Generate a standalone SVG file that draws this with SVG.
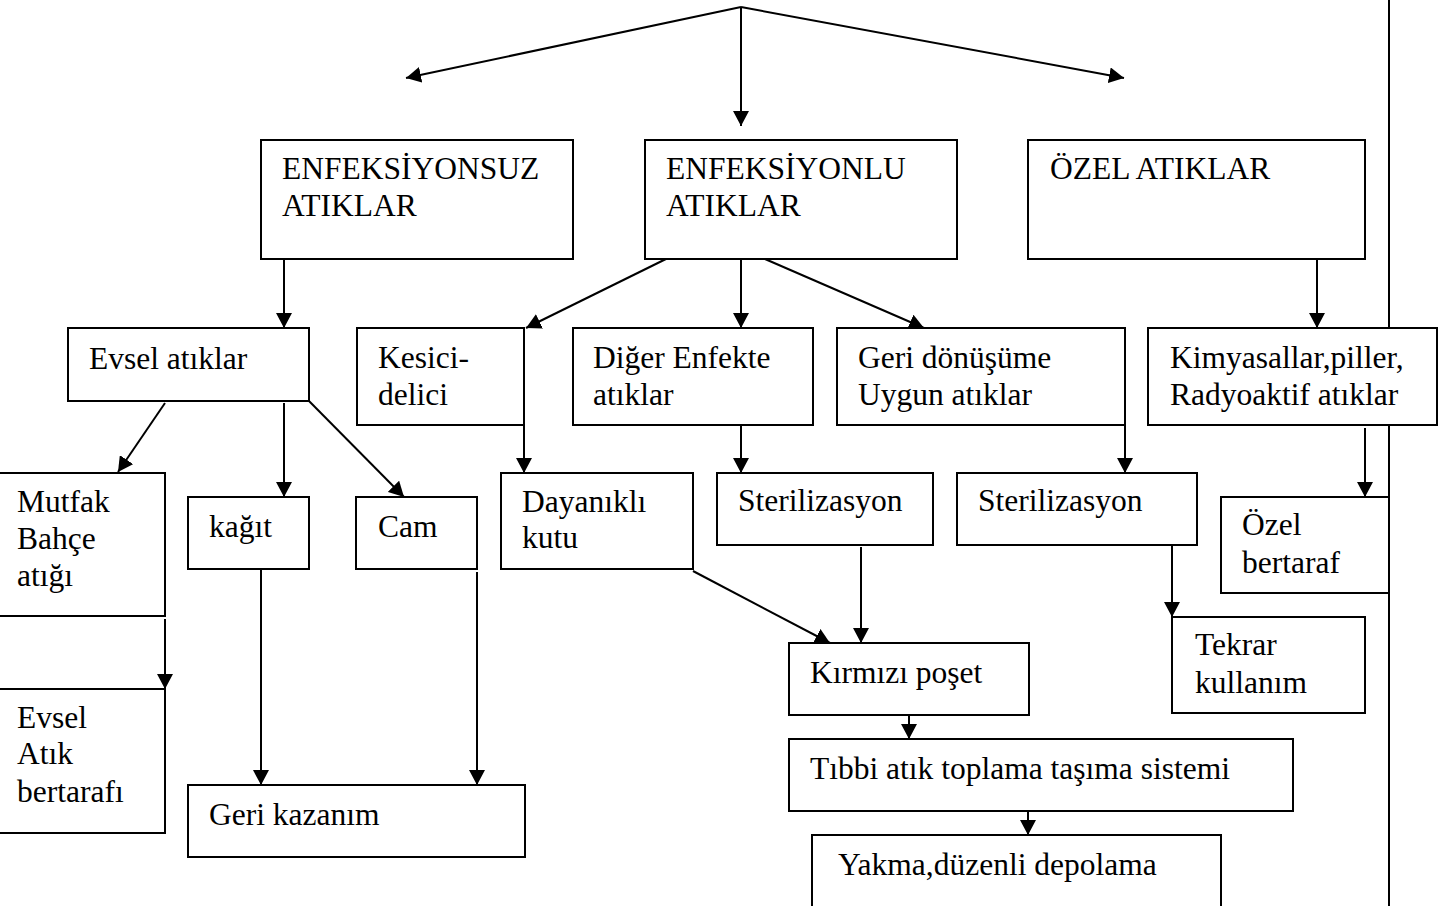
<svg xmlns="http://www.w3.org/2000/svg" width="1447" height="906" viewBox="0 0 1447 906">
<style>
.b{fill:#fff;stroke:#000;stroke-width:2}
.t{font-family:"Liberation Serif","Times New Roman",serif;font-size:31.5px;fill:#000}
.c{stroke:#000;stroke-width:2;fill:none}
.a{marker-end:url(#ah)}
</style>
<defs>
<marker id="ah" markerUnits="userSpaceOnUse" markerWidth="16" markerHeight="16" refX="15" refY="8" orient="auto">
<path d="M0,0 L15,8 L0,16 z" fill="#000"/>
</marker>
</defs>
<rect width="1447" height="906" fill="#fff"/>
<g id="connectors">
<line class="c" x1="1389" y1="0" x2="1389" y2="906"/>
<line class="c a" x1="741" y1="7" x2="406" y2="78"/>
<line class="c a" x1="741" y1="7" x2="741" y2="126"/>
<line class="c a" x1="741" y1="7" x2="1124" y2="78"/>
<line class="c a" x1="284" y1="259" x2="284" y2="328"/>
<line class="c a" x1="670" y1="257" x2="526" y2="328"/>
<line class="c a" x1="741" y1="259" x2="741" y2="328"/>
<line class="c a" x1="765" y1="259" x2="924" y2="328"/>
<line class="c a" x1="1317" y1="259" x2="1317" y2="328"/>
<line class="c a" x1="165" y1="403" x2="118" y2="472"/>
<line class="c a" x1="284" y1="403" x2="284" y2="497"/>
<line class="c a" x1="309" y1="401" x2="404" y2="497"/>
<line class="c a" x1="524" y1="425" x2="524" y2="473"/>
<line class="c a" x1="741" y1="425" x2="741" y2="473"/>
<line class="c a" x1="1125" y1="425" x2="1125" y2="473"/>
<line class="c a" x1="1365" y1="428" x2="1365" y2="497"/>
<line class="c a" x1="165" y1="619" x2="165" y2="689"/>
<line class="c a" x1="261" y1="569" x2="261" y2="785"/>
<line class="c a" x1="477" y1="572" x2="477" y2="785"/>
<line class="c a" x1="693" y1="571" x2="830" y2="643"/>
<line class="c a" x1="861" y1="547" x2="861" y2="643"/>
<line class="c a" x1="1172" y1="545" x2="1172" y2="617"/>
<line class="c a" x1="909" y1="715" x2="909" y2="739"/>
<line class="c a" x1="1028" y1="811" x2="1028" y2="835"/>
</g>
<g id="n-enfeksiyonsuz"><rect class="b" x="261" y="140" width="312" height="119"/><text class="t" x="282" y="179">ENFEKSİYONSUZ</text><text class="t" x="282" y="216">ATIKLAR</text></g>
<g id="n-enfeksiyonlu"><rect class="b" x="645" y="140" width="312" height="119"/><text class="t" x="666" y="179">ENFEKSİYONLU</text><text class="t" x="666" y="216">ATIKLAR</text></g>
<g id="n-ozel"><rect class="b" x="1028" y="140" width="337" height="119"/><text class="t" x="1050" y="179">ÖZEL ATIKLAR</text></g>
<g id="n-evsel"><rect class="b" x="68" y="328" width="241" height="73"/><text class="t" x="89" y="369">Evsel atıklar</text></g>
<g id="n-kesici"><rect class="b" x="357" y="328" width="167" height="97"/><text class="t" x="378" y="368">Kesici-</text><text class="t" x="378" y="405">delici</text></g>
<g id="n-diger"><rect class="b" x="573" y="328" width="240" height="97"/><text class="t" x="593" y="368">Diğer Enfekte</text><text class="t" x="593" y="405">atıklar</text></g>
<g id="n-geridonusum"><rect class="b" x="837" y="328" width="288" height="97"/><text class="t" x="858" y="368">Geri dönüşüme</text><text class="t" x="858" y="405">Uygun atıklar</text></g>
<g id="n-kimyasal"><rect class="b" x="1148" y="328" width="289" height="97"/><text class="t" x="1170" y="368">Kimyasallar,piller,</text><text class="t" x="1170" y="405">Radyoaktif atıklar</text></g>
<g id="n-mutfak"><rect class="b" x="-5" y="473" width="170" height="143"/><text class="t" x="17" y="512">Mutfak</text><text class="t" x="17" y="549">Bahçe</text><text class="t" x="17" y="586">atığı</text></g>
<g id="n-kagit"><rect class="b" x="188" y="497" width="121" height="72"/><text class="t" x="209" y="537">kağıt</text></g>
<g id="n-cam"><rect class="b" x="356" y="497" width="121" height="72"/><text class="t" x="378" y="537">Cam</text></g>
<g id="n-dayanikli"><rect class="b" x="501" y="473" width="192" height="96"/><text class="t" x="522" y="512">Dayanıklı</text><text class="t" x="522" y="548">kutu</text></g>
<g id="n-steril1"><rect class="b" x="717" y="473" width="216" height="72"/><text class="t" x="738" y="511">Sterilizasyon</text></g>
<g id="n-steril2"><rect class="b" x="957" y="473" width="240" height="72"/><text class="t" x="978" y="511">Sterilizasyon</text></g>
<g id="n-ozelbertaraf"><rect class="b" x="1221" y="497" width="168" height="96"/><text class="t" x="1242" y="535">Özel</text><text class="t" x="1242" y="573">bertaraf</text></g>
<g id="n-evselatik"><rect class="b" x="-5" y="689" width="170" height="144"/><text class="t" x="17" y="728">Evsel</text><text class="t" x="17" y="764">Atık</text><text class="t" x="17" y="802">bertarafı</text></g>
<g id="n-gerikazanim"><rect class="b" x="188" y="785" width="337" height="72"/><text class="t" x="209" y="825">Geri kazanım</text></g>
<g id="n-kirmizi"><rect class="b" x="789" y="643" width="240" height="72"/><text class="t" x="810" y="683">Kırmızı poşet</text></g>
<g id="n-tekrar"><rect class="b" x="1172" y="617" width="193" height="96"/><text class="t" x="1195" y="655">Tekrar</text><text class="t" x="1195" y="693">kullanım</text></g>
<g id="n-tibbi"><rect class="b" x="789" y="739" width="504" height="72"/><text class="t" x="810" y="779">Tıbbi atık toplama taşıma sistemi</text></g>
<g id="n-yakma"><rect class="b" x="812" y="835" width="409" height="90"/><text class="t" x="838" y="875">Yakma,düzenli depolama</text></g>
</svg>
